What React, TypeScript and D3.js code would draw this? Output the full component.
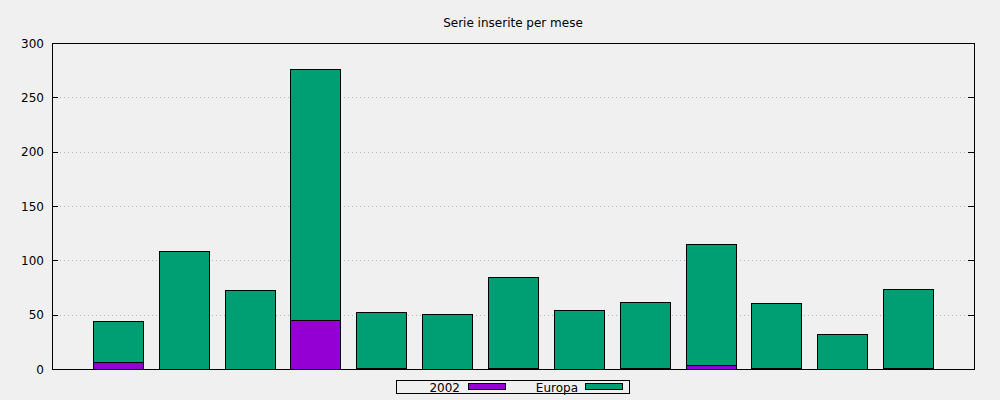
import React from "react";
import * as d3 from "d3";

const months = ["1", "2", "3", "4", "5", "6", "7", "8", "9", "10", "11", "12", "13"];
const serie2002 = [6, 0, 0, 45, 1, 0, 1, 0, 1, 4, 1, 0, 1];
const serieEuropa = [38, 109, 73, 231, 51, 51, 84, 54, 61, 111, 60, 32, 73];
const yTicks = [0, 50, 100, 150, 200, 250, 300];
const seriesNames = ["2002", "Europa"];
const colors = ["#9400d3", "#009e73"];

const W = 1000, H = 400;
const L = 52, R = 974, T = 43, B = 369;

export default function App() {
  const x = d3.scaleLinear().domain([0, months.length + 1]).range([L, R]);
  const y = d3.scaleLinear().domain([0, 300]).range([B, T]);
  const slot = x(1) - x(0);
  const bw = slot * 0.76;
  const font = "DejaVu Sans, sans-serif";

  const rows = months.map((m, i) => ({ a: serie2002[i], b: serieEuropa[i] }));

  return (
    <svg width={W} height={H} style={{ position: "absolute", left: 0, top: 0, background: "#f0f0f0" }}>
      <rect x={0} y={0} width={W} height={H} fill="#f0f0f0" />
      {/* grid */}
      {yTicks.filter((t) => t > 0 && t < 300).map((t) => (
        <line key={"g" + t} x1={L} x2={R} y1={Math.round(y(t)) + 0.5} y2={Math.round(y(t)) + 0.5} stroke="#b8b8b8" strokeDasharray="1,3" strokeWidth={1} />
      ))}
      {/* bars */}
      {rows.map((r, i) => {
        const cx = x(i + 1);
        const x0 = cx - bw / 2;
        const segs = [
          { v0: 0, v1: r.a, c: colors[0] },
          { v0: r.a, v1: r.a + r.b, c: colors[1] },
        ];
        return (
          <g key={i}>
            {segs.map((s, j) =>
              s.v1 > s.v0 ? (
                <rect
                  key={j}
                  x={Math.round(x0) + 0.5}
                  y={Math.round(y(s.v1)) + 0.5}
                  width={Math.round(bw)}
                  height={Math.round(y(s.v0)) - Math.round(y(s.v1))}
                  fill={s.c}
                  stroke="#000"
                  strokeWidth={1}
                />
              ) : null
            )}
          </g>
        );
      })}
      {/* border */}
      <rect x={L + 0.5} y={T + 0.5} width={R - L} height={B - T} fill="none" stroke="#000" strokeWidth={1} />
      {/* ticks */}
      {yTicks.map((t) => (
        <g key={"t" + t}>
          <line x1={L} x2={L + 6} y1={Math.round(y(t)) + 0.5} y2={Math.round(y(t)) + 0.5} stroke="#000" />
          <line x1={R - 6} x2={R} y1={Math.round(y(t)) + 0.5} y2={Math.round(y(t)) + 0.5} stroke="#000" />
          <text x={L - 8} y={y(t) + 0.5} dy="0.35em" textAnchor="end" fontFamily={font} fontSize={12} fill="#000">
            {t}
          </text>
        </g>
      ))}
      {/* title */}
      <text x={(L + R) / 2} y={23} dy="0.35em" textAnchor="middle" fontFamily={font} fontSize={12} fill="#000">
        Serie inserite per mese
      </text>
      {/* legend */}
      <rect x={396.5} y={380.5} width={233} height={13} fill="#f0f0f0" stroke="#000" />
      {seriesNames.map((n, i) => {
        const tx = i === 0 ? 460 : 578;
        const sx = i === 0 ? 468 : 585;
        return (
          <g key={n}>
            <text x={tx} y={387.5} dy="0.35em" textAnchor="end" fontFamily={font} fontSize={12} fill="#000">
              {n}
            </text>
            <rect x={sx + 0.5} y={383.5} width={37} height={6} fill={colors[i]} stroke="#000" />
          </g>
        );
      })}
    </svg>
  );
}
